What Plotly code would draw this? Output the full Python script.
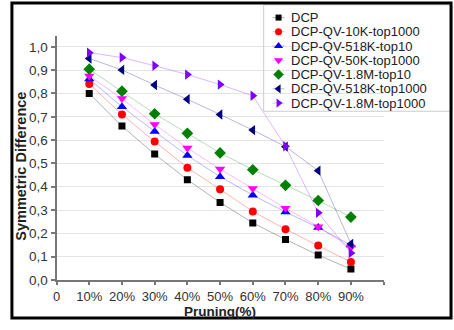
import plotly.graph_objects as go

W, H = 454, 330

pruning = [10, 20, 30, 40, 50, 60, 70, 80, 90]
series_names = ["DCP", "DCP-QV-10K-top1000", "DCP-QV-518K-top10", "DCP-QV-50K-top1000",
                "DCP-QV-1.8M-top10", "DCP-QV-518K-top1000", "DCP-QV-1.8M-top1000"]
dcp = [0.800, 0.660, 0.540, 0.430, 0.333, 0.245, 0.174, 0.107, 0.047]
qv_10k_top1000 = [0.841, 0.710, 0.594, 0.482, 0.389, 0.294, 0.218, 0.148, 0.077]
qv_518k_top10 = [0.862, 0.743, 0.637, 0.534, 0.443, 0.364, 0.292, 0.225, 0.150]
qv_50k_top1000 = [0.875, 0.778, 0.667, 0.566, 0.476, 0.392, 0.308, 0.229, 0.140]
qv_18m_top10 = [0.904, 0.810, 0.713, 0.629, 0.545, 0.473, 0.406, 0.341, 0.270]
qv_518k_top1000 = [0.950, 0.901, 0.836, 0.775, 0.710, 0.643, 0.572, 0.469, 0.155]
qv_18m_top1000 = [0.975, 0.954, 0.919, 0.881, 0.838, 0.790, 0.574, 0.288, 0.116]

y_ticks = [0.0, 0.1, 0.2, 0.3, 0.4, 0.5, 0.6, 0.7, 0.8, 0.9, 1.0]
y_ticklabels = ["0,0", "0,1", "0,2", "0,3", "0,4", "0,5", "0,6", "0,7", "0,8", "0,9", "1,0"]
x_ticks = [0, 10, 20, 30, 40, 50, 60, 70, 80, 90, 100]
x_ticklabels = ["0", "10%", "20%", "30%", "40%", "50%", "60%", "70%", "80%", "90%", ""]

all_series = [dcp, qv_10k_top1000, qv_518k_top10, qv_50k_top1000,
              qv_18m_top10, qv_518k_top1000, qv_18m_top1000]
colors = ["#000000", "#ff0000", "#0000ff", "#ff00ff", "#008000", "#000080", "#8000ff"]
line_colors = ["rgba(0,0,0,0.3)", "rgba(255,0,0,0.3)", "rgba(0,0,255,0.28)",
               "rgba(255,0,255,0.28)", "rgba(0,128,0,0.28)", "rgba(0,0,128,0.28)",
               "rgba(128,0,255,0.28)"]
symbols = ["square", "circle", "triangle-up", "triangle-down", "diamond",
           "triangle-left", "triangle-right"]
sizes = [7, 8, 9, 9, 9, 9, 9]

FONT = "Liberation Sans, Arial, sans-serif"

fig = go.Figure()
for name, vals, c, lc, s, sz in zip(series_names, all_series, colors, line_colors, symbols, sizes):
    fig.add_trace(go.Scatter(
        x=pruning, y=vals, mode="lines+markers", name=name,
        line=dict(color=lc, width=1),
        marker=dict(symbol=s, color=c, size=sz, line=dict(width=0)),
        xaxis="x", yaxis="y", showlegend=False))

# manual legend (markers on a full-figure overlay axis, pixel units)
leg_x_marker, leg_x_text, leg_top, leg_step = 277, 288, 18, 14.6
for k, (name, c, s, sz) in enumerate(zip(series_names, colors, symbols, sizes)):
    yy = leg_top + k * leg_step
    fig.add_trace(go.Scatter(
        x=[leg_x_marker - 6, leg_x_marker + 6], y=[yy, yy], mode="lines",
        line=dict(color=line_colors[k], width=1), xaxis="x2", yaxis="y2",
        showlegend=False, hoverinfo="skip"))
    fig.add_trace(go.Scatter(
        x=[leg_x_marker], y=[yy], mode="markers",
        marker=dict(symbol=s, color=c, size=sz - 1, line=dict(width=0)),
        xaxis="x2", yaxis="y2", showlegend=False, hoverinfo="skip"))
    fig.add_annotation(x=leg_x_text / W, y=1 - yy / H, xref="paper", yref="paper",
                       text=name, showarrow=False, xanchor="left", yanchor="middle",
                       font=dict(family=FONT, size=13, color="#222222"))

# axis titles as annotations
fig.add_annotation(x=218 / W, y=1 - 319 / H, xref="paper", yref="paper",
                   text="<b>Pruning(%)</b>", showarrow=False, xanchor="center",
                   yanchor="middle", font=dict(family=FONT, size=13.5, color="#222222"))
fig.add_annotation(x=17 / W, y=1 - 170 / H, xref="paper", yref="paper",
                   text="<b>Symmetric Difference</b>", showarrow=False, textangle=-90,
                   xanchor="center", yanchor="middle",
                   font=dict(family=FONT, size=14.5, color="#222222"))

x0, x1, y0, y1 = 53, 383, 287, 37
fig.update_layout(
    width=W, height=H,
    margin=dict(l=0, r=0, t=0, b=0),
    paper_bgcolor="white", plot_bgcolor="rgba(0,0,0,0)",
    font=dict(family=FONT, color="#333333"),
    xaxis=dict(domain=[x0 / W, x1 / W], range=[0, 100], tickvals=x_ticks,
               ticktext=x_ticklabels, showgrid=False, zeroline=False,
               showline=True, linecolor="#777777", linewidth=2,
               ticks="outside", ticklen=3, tickwidth=1.5, tickcolor="#777777",
               tickfont=dict(size=13, color="#333333"),
               anchor="y", fixedrange=True),
    yaxis=dict(domain=[1 - y0 / H, 1 - y1 / H], range=[0, 1.046], tickvals=y_ticks,
               ticktext=y_ticklabels, showgrid=True, gridcolor="#e4e4e4", gridwidth=1,
               zeroline=False, showline=True, linecolor="#777777", linewidth=2,
               ticks="outside", ticklen=4, tickwidth=1.5, tickcolor="#777777",
               tickfont=dict(size=13.5, color="#333333"),
               anchor="x", fixedrange=True),
    xaxis2=dict(domain=[0, 1], range=[0, W], visible=False, anchor="y2", fixedrange=True),
    yaxis2=dict(domain=[0, 1], range=[H, 0], visible=False, anchor="x2", fixedrange=True),
    shapes=[
        dict(type="rect", xref="paper", yref="paper", x0=262 / W, x1=452 / W,
             y0=1 - 114 / H, y1=1 - 5 / H, line=dict(color="#cccccc", width=1)),
        dict(type="rect", xref="paper", yref="paper", x0=8 / W, x1=451 / W,
             y0=1 - 326 / H, y1=1 - 3 / H, line=dict(color="#000000", width=3)),
    ],
    showlegend=False,
)

fig.write_html("out.html")
